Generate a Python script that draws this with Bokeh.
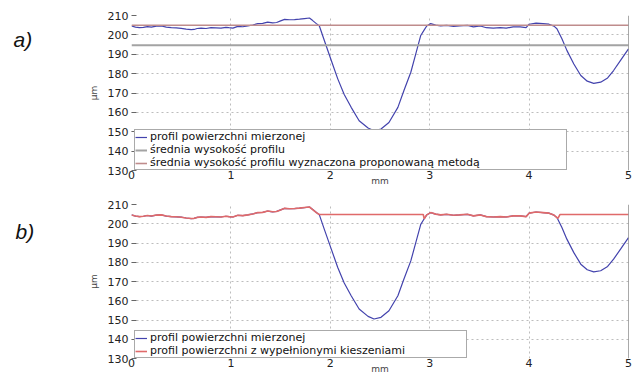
from bokeh.plotting import figure
from bokeh.layouts import column, row
from bokeh.models import Legend, LegendItem, Label, Span, FixedTicker, Range1d
from bokeh.embed import file_html
from bokeh.resources import INLINE

# ---- data ----
x_ticks = [0, 1, 2, 3, 4, 5]
y_ticks = [130, 140, 150, 160, 170, 180, 190, 200, 210]

profile_x = [0.00, 0.04, 0.08, 0.12, 0.16, 0.20, 0.25, 0.30, 0.35, 0.40, 0.45, 0.50, 0.55, 0.60, 0.63,
             0.66, 0.70, 0.75, 0.80, 0.85, 0.90, 0.95, 0.98, 1.02, 1.07, 1.12, 1.17, 1.22, 1.27, 1.32,
             1.37, 1.42, 1.46, 1.50, 1.54, 1.59, 1.64, 1.69, 1.74, 1.79, 1.82, 1.86, 1.89, 1.94, 2.01,
             2.075, 2.14, 2.21, 2.29, 2.38, 2.44, 2.51, 2.59, 2.68, 2.74, 2.81, 2.86, 2.91, 2.945, 2.97,
             3.01, 3.06, 3.11, 3.17, 3.24, 3.30, 3.38, 3.44, 3.51, 3.57, 3.64, 3.71, 3.77, 3.84, 3.91,
             3.97, 4.00, 4.07, 4.14, 4.20, 4.25, 4.28, 4.33, 4.38, 4.45, 4.52, 4.585, 4.65, 4.72, 4.79,
             4.85, 4.92, 5.00]
profile_um = [204.6, 204.0, 203.7, 203.9, 204.3, 204.0, 204.5, 204.6, 204.0, 203.7, 203.6, 203.4, 203.0, 202.7, 202.8,
              203.3, 203.5, 203.3, 203.7, 203.6, 203.5, 203.9, 203.7, 203.5, 204.4, 204.2, 204.6, 205.1, 205.8, 205.9,
              206.6, 206.2, 206.4, 207.2, 208.0, 207.8, 207.9, 208.1, 208.4, 208.7, 207.5, 205.8, 204.6, 197.1, 186.8,
              177.3, 169.2, 162.6, 155.7, 151.9, 150.5, 151.4, 154.8, 162.6, 171.2, 180.7, 190.2, 199.7, 202.6, 204.6,
              205.8, 205.0, 204.6, 204.9, 204.4, 204.6, 204.9, 204.1, 204.6, 203.7, 203.5, 203.7, 203.5, 204.1, 204.1,
              203.7, 205.5, 206.1, 205.8, 205.5, 204.5, 203.2, 198.0, 192.0, 185.0, 179.0, 176.1, 175.0, 175.6, 177.8,
              181.6, 186.8, 192.8]

filled_x = [0.00, 0.04, 0.08, 0.12, 0.16, 0.20, 0.25, 0.30, 0.35, 0.40, 0.45, 0.50, 0.55, 0.60, 0.63,
            0.66, 0.70, 0.75, 0.80, 0.85, 0.90, 0.95, 0.98, 1.02, 1.07, 1.12, 1.17, 1.22, 1.27, 1.32,
            1.37, 1.42, 1.46, 1.50, 1.54, 1.59, 1.64, 1.69, 1.74, 1.79, 1.82, 1.86, 1.89, 2.935, 2.945,
            2.97, 3.01, 3.06, 3.11, 3.17, 3.24, 3.30, 3.38, 3.44, 3.51, 3.57, 3.64, 3.71, 3.77, 3.84,
            3.91, 3.97, 4.00, 4.07, 4.14, 4.20, 4.25, 4.29, 4.31, 5.00]
filled_um = [204.6, 204.0, 203.7, 203.9, 204.3, 204.0, 204.5, 204.6, 204.0, 203.7, 203.6, 203.4, 203.0, 202.7, 202.8,
             203.3, 203.5, 203.3, 203.7, 203.6, 203.5, 203.9, 203.7, 203.5, 204.4, 204.2, 204.6, 205.1, 205.8, 205.9,
             206.6, 206.2, 206.4, 207.2, 208.0, 207.8, 207.9, 208.1, 208.4, 208.7, 207.5, 205.8, 204.8, 204.8, 202.6,
             204.6, 205.8, 205.0, 204.6, 204.9, 204.4, 204.6, 204.9, 204.1, 204.6, 203.7, 203.5, 203.7, 203.5, 204.1,
             204.1, 203.7, 205.5, 206.1, 205.8, 205.5, 204.5, 202.8, 204.8, 204.8]

mean_height = 194.7            # średnia wysokość profilu
mean_height_proposed = 205.0   # średnia wysokość wyznaczona proponowaną metodą

legend_a = ["profil powierzchni mierzonej",
            "średnia wysokość profilu",
            "średnia wysokość profilu wyznaczona proponowaną metodą"]
legend_b = ["profil powierzchni mierzonej",
            "profil powierzchni z wypełnionymi kieszeniami"]
x_label = "mm"
y_label = "µm"
panel_labels = ["a)", "b)"]

BLUE = "#4343ad"
RED = "#e06a6a"
FONT = "DejaVu Sans"
TAG_W = 85


def make_fig(h, top, bottom):
    p = figure(width=633 - TAG_W, height=h, x_range=Range1d(x_ticks[0], x_ticks[-1]),
               y_range=Range1d(y_ticks[0], y_ticks[-1]), output_backend="svg",
               toolbar_location=None, min_border_left=130 - TAG_W, min_border_right=5,
               min_border_top=top, min_border_bottom=bottom)
    p.outline_line_color = None
    p.background_fill_color = "white"
    p.border_fill_color = "white"
    p.xaxis.ticker = FixedTicker(ticks=x_ticks)
    p.yaxis.ticker = FixedTicker(ticks=y_ticks)
    for g in (p.xgrid, p.ygrid):
        g.grid_line_color = "#bdbdbd"
        g.grid_line_dash = "2 3"
        g.grid_line_width = 1
    for ax in (p.xaxis, p.yaxis):
        ax.axis_line_color = None
        ax.minor_tick_line_color = None
        ax.major_tick_out = 0
        ax.major_label_text_font = FONT
        ax.major_label_text_font_size = "11px"
        ax.major_label_text_color = "#222222"
    p.xaxis.major_tick_in = 0
    p.xaxis.major_label_standoff = 0
    p.xaxis.axis_label = x_label
    p.xaxis.axis_label_text_font = FONT
    p.xaxis.axis_label_text_font_size = "9px"
    p.xaxis.axis_label_text_font_style = "normal"
    p.xaxis.axis_label_standoff = -6
    p.yaxis.major_tick_in = 5
    p.yaxis.major_tick_line_color = "#666666"
    p.yaxis.major_label_standoff = 3
    p.yaxis.axis_label = y_label
    p.yaxis.axis_label_text_font = FONT
    p.yaxis.axis_label_text_font_size = "9px"
    p.yaxis.axis_label_text_font_style = "normal"
    p.yaxis.axis_label_standoff = 6
    p.add_layout(Span(location=x_ticks[-1], dimension="height", line_color="#555555", line_width=1))
    return p


def make_tag(h, text, x, y):
    t = figure(width=TAG_W, height=h, x_range=Range1d(0, TAG_W), y_range=Range1d(h, 0),
               output_backend="svg", toolbar_location=None, min_border=0)
    t.axis.visible = False
    t.grid.visible = False
    t.outline_line_color = None
    t.add_layout(Label(x=x, y=y, text=text, text_font="Liberation Sans",
                       text_font_style="italic", text_font_size="21px", text_color="#111111",
                       text_baseline="alphabetic"))
    return t


def style_legend(lg, label_width):
    lg.location = (3, 0)
    lg.label_text_font = FONT
    lg.label_text_font_size = "11px"
    lg.label_text_line_height = 0.9
    lg.label_text_color = "#111111"
    lg.glyph_width = 12
    lg.glyph_height = 10
    lg.label_height = 10
    lg.label_standoff = 3
    lg.label_width = label_width
    lg.spacing = 0
    lg.padding = 0
    lg.margin = 0
    lg.border_line_color = "#555555"
    lg.border_line_width = 1
    lg.background_fill_color = "white"
    lg.background_fill_alpha = 1


# ---- a) ----
pa = make_fig(190, 15, 20)
ra_prof = pa.line(profile_x, profile_um, line_color=BLUE, line_width=1.2)
ra_mean = pa.line([profile_x[0], profile_x[-1]], [mean_height, mean_height],
                  line_color="#a3a3a3", line_width=2)
ra_prop = pa.line([profile_x[0], profile_x[-1]], [mean_height_proposed, mean_height_proposed],
                  line_color="#bf8c8c", line_width=1.6)
leg_a = Legend(items=[LegendItem(label=legend_a[0], renderers=[ra_prof]),
                      LegendItem(label=legend_a[1], renderers=[ra_mean]),
                      LegendItem(label=legend_a[2], renderers=[ra_prop])])
style_legend(leg_a, 416)
pa.add_layout(leg_a)
ta = make_tag(190, panel_labels[0], 13, 30)

# ---- b) ----
pb = make_fig(186, 14, 18)
rb_prof = pb.line(profile_x, profile_um, line_color=BLUE, line_width=1.2)
rb_fill = pb.line(filled_x, filled_um, line_color=RED, line_width=1.6)
leg_b = Legend(items=[LegendItem(label=legend_b[0], renderers=[rb_prof]),
                      LegendItem(label=legend_b[1], renderers=[rb_fill])])
style_legend(leg_b, 316)
pb.add_layout(leg_b)
tb = make_tag(186, panel_labels[1], 15, 33)

layout = column(row(ta, pa), row(tb, pb))
open("out.html", "w").write(file_html(layout, INLINE))
